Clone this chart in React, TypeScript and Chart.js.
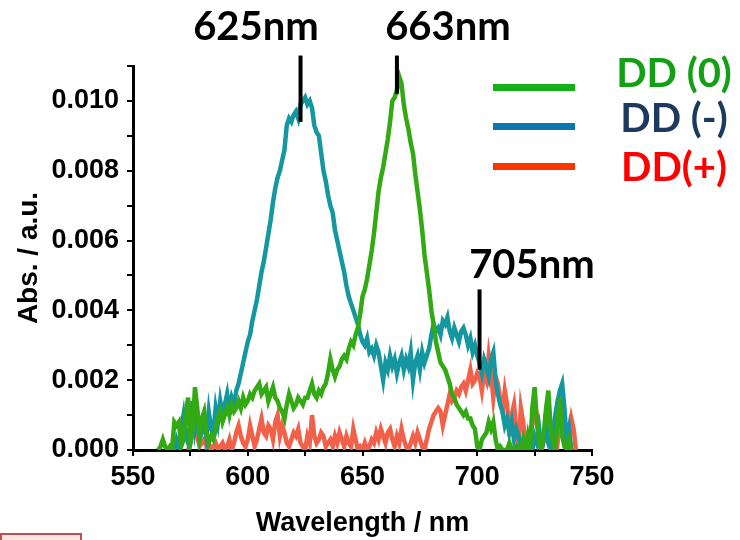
import React, { useEffect, useRef } from "react";
import { Chart, registerables } from "chart.js";

Chart.register(...registerables);

// Absorbance values in units of 1e-4 a.u., one value per nm starting at 560 nm
const WL_START = 560;
const SCALE = 1e-4;

const dd0 = [
  null, 0, 1, 3, 1, 0, 1, 0, 8, 7,
  8, 1, 3, 10, 15, 2, 6, 18, 12, 4,
  9, 11, 5, 2, 4, 3, 6, 9, 11, 8,
  10, 12, 10, 13, 11, 12, 14, 12, 15, 13,
  14, 16, 15, 17, 18, 19, 16, 17, 18, 14,
  16, 18, 15, 14, 12, 11, 9, 13, 16, 14,
  12, 13, 15, 14, 13, 15, 15, 17, 19, 16,
  15, 17, 16, 18, 19, 22, 26, 23, 21, 23,
  24, 26, 27, 26, 29, 31, 30, 33, 35, 39,
  44, 46, 49, 53, 57, 62, 68, 74, 78, 81,
  85, 89, 94, 100, 101, 103, 107, 105, 99, 95,
  92, 88, 85, 79, 74, 69, 63, 56, 51, 46,
  40, 36, 31, 28, 25, 24, 23, 21, 19, 16,
  15, 13, 12, 11, 10, 11, 9, 9, 7, 6,
  1, 0, 3, 4, 5, 8, 6, 8, 3, 0,
  1, 0, 0, 0, 2, 0, 0, 1, 0, 0,
  3, 0, 4, 0, 12, 18, 8, 2, 0, 5,
  12, 17, 6, 2, 0, 8, 15, 4, 1, 0,
  3, 0, null, null,
];

const ddMinus = [
  null, null, null, null, null, null, null, null, 0, 3,
  1, 6, 10, 4, 2, 8, 14, 6, 10, 3,
  5, 9, 4, 11, 6, 5, 12, 8, 14, 10,
  13, 16, 11, 15, 13, 17, 19, 22, 25, 28,
  31, 33, 37, 40, 43, 47, 51, 54, 58, 62,
  66, 71, 75, 78, 80, 83, 86, 93, 95, 94,
  96, 97, 95, 99, 100, 101, 99, 100, 98, 93,
  91, 90, 85, 80, 77, 73, 70, 68, 63, 60,
  57, 54, 51, 47, 44, 42, 40, 38, 36, 33,
  31, 30, 32, 28, 29, 27, 30, 28, 24, 20,
  25, 23, 27, 24, 26, 22, 25, 27, 23, 26,
  24, 28, 20, 25, 27, 23, 28, 25, 27, 29,
  33, 36, 34, 35, 33, 37, 36, 38, 34, 32,
  35, 33, 31, 34, 35, 33, 30, 32, 28, 30,
  27, 25, 22, 26, 24, 21, 26, 28, 20, 16,
  13, 11, 7, 9, 5, 8, 3, 6, 4, 1,
  2, 0, 3, 1, 0, 4, 2, 6, 0, 3,
  8, 2, 0, 5, 10, 14, 17, 19, 12, 2,
  6, 0, null, null,
];

const ddPlus = [
  null, null, null, null, null, null, null, null, null, null,
  null, null, null, null, 0, 2, 6, 5, 4, 1,
  2, 3, 1, 2, 0, 1, 2, 0, 1, 2,
  0, 1, 3, 0, 2, 5, 7, 4, 2, 1,
  3, 7, 4, 1, 3, 6, 9, 5, 4, 7,
  6, 3, 8, 10, 4, 7, 5, 2, 1, 3,
  5, 4, 6, 2, 1, 0, 4, 2, 10, 4,
  2, 3, 5, 4, 1, 2, 3, 1, 4, 2,
  5, 3, 1, 4, 2, 1, 6, 3, 0, 1,
  0, 2, 0, 1, 3, 2, 5, 3, 6, 4,
  2, 5, 6, 3, 1, 4, 2, 6, 3, 1,
  0, 2, 4, 2, 5, 3, 1, 0, 3, 6,
  8, 10, 11, 12, 11, 7, 10, 13, 16, 14,
  15, 17, 16, 18, 19, 17, 20, 23, 19, 20,
  22, 21, 17, 22, 20, 27, 22, 15, 21, 19,
  14, 11, 17, 13, 4, 10, 13, 6, 0, 12,
  8, 2, 0, 5, 7, 13, 10, 2, 0, 3,
  4, 2, 3, 1, 4, 2, 8, 13, 6, 0,
  4, 9, 6, 0,
];

const seriesNames = ["DD (0)", "DD (-)", "DD(+)"];
const lineColors = ["#33a914", "#1597a1", "#f3604a"];
const legendSwatch = ["#14b01a", "#0b79b0", "#ff3300"];
const legendText = ["#14a014", "#1d3a5e", "#ff0000"];

const xTicksMajor = [550, 600, 650, 700, 750];
const yMax = 0.011;

// peak markers: wavelength label, drawn position (nm), top & bottom (a.u.)
const markerLabels = ["625nm", "663nm", "705nm"];
const markerWl = [623, 665, 701];
const markerTop = [0.0113, 0.0113, 0.0046];
const markerBottom = [0.0094, 0.0102, 0.0023];

const toPoints = (arr: (number | null)[]) =>
  arr.map((v, i) => ({ x: WL_START + i, y: v === null ? null : v * SCALE }));

const markerPlugin = {
  id: "peakMarkers",
  afterDatasetsDraw(chart: any) {
    const { ctx, scales } = chart;
    ctx.save();
    ctx.strokeStyle = "#000";
    ctx.lineWidth = 4;
    for (let i = 0; i < markerWl.length; i++) {
      const x = scales.x.getPixelForValue(markerWl[i]);
      ctx.beginPath();
      ctx.moveTo(x, scales.y.getPixelForValue(markerTop[i]));
      ctx.lineTo(x, scales.y.getPixelForValue(markerBottom[i]));
      ctx.stroke();
    }
    ctx.restore();
  },
};

const tickFont = {
  family: "'Liberation Sans Narrow', 'Arial Narrow', 'Liberation Sans', sans-serif",
  weight: "bold" as const,
  size: 27,
};

export default function App() {
  const ref = useRef<HTMLCanvasElement>(null);

  useEffect(() => {
    if (!ref.current) return;
    const chart = new Chart(ref.current, {
      type: "line",
      data: {
        datasets: [dd0, ddMinus, ddPlus].map((arr, i) => ({
          label: seriesNames[i],
          data: toPoints(arr) as any,
          borderColor: lineColors[i],
          backgroundColor: lineColors[i],
          borderWidth: 4.5,
          pointRadius: 0,
          tension: 0,
          spanGaps: false,
        })),
      },
      options: {
        animation: false,
        responsive: false,
        parsing: false as any,
        layout: { padding: { left: 0, right: 148, top: 66, bottom: 0 } },
        plugins: { legend: { display: false }, tooltip: { enabled: false } },
        scales: {
          x: {
            type: "linear",
            min: 550,
            max: 750,
            afterFit: (s: any) => {
              s.height = 90;
            },
            border: { color: "#000", width: 3 },
            grid: {
              drawOnChartArea: false,
              drawTicks: true,
              tickLength: 6,
              color: "#000",
              lineWidth: 2,
            },
            ticks: {
              stepSize: 25,
              autoSkip: false,
              maxRotation: 0,
              padding: 5,
              color: "#000",
              font: tickFont,
              callback: (v: any) => (xTicksMajor.includes(Number(v)) ? String(v) : ""),
            },
            title: {
              display: true,
              text: "Wavelength / nm",
              color: "#000",
              font: { ...tickFont, size: 27 },
              padding: { top: 0, bottom: 0 },
            },
          },
          y: {
            min: 0,
            max: yMax,
            afterFit: (s: any) => {
              s.width = 133;
            },
            border: { color: "#000", width: 3 },
            grid: {
              drawOnChartArea: false,
              drawTicks: true,
              tickLength: 6,
              color: "#000",
              lineWidth: 2,
            },
            ticks: {
              stepSize: 0.001,
              autoSkip: false,
              padding: 8,
              color: "#000",
              font: tickFont,
              callback: (v: any) => {
                const k = Math.round(Number(v) * 1000);
                return k % 2 === 0 ? (k / 1000).toFixed(3) : "";
              },
            },
            title: {
              display: true,
              text: "Abs. / a.u.",
              color: "#000",
              font: { ...tickFont, size: 28 },
              padding: { top: 12, bottom: 0 },
            },
          },
        },
      },
      plugins: [markerPlugin],
    });
    return () => chart.destroy();
  }, []);

  const labelStyle = (left: number, top: number, color: string): React.CSSProperties => ({
    position: "absolute",
    left,
    top,
    transform: "translateX(-50%)",
    font: "bold 40px Lato, 'Open Sans', sans-serif",
    lineHeight: "40px",
    color,
    whiteSpace: "nowrap",
  });

  return (
    <div style={{ position: "fixed", left: 0, top: 0, width: 740, height: 540, background: "#fff", overflow: "hidden" }}>
      <canvas ref={ref} width={740} height={540} style={{ position: "absolute", left: 0, top: 0 }} />
      <div style={labelStyle(256, 5, "#000")}>{markerLabels[0]}</div>
      <div style={labelStyle(448, 5, "#000")}>{markerLabels[1]}</div>
      <div style={labelStyle(532, 243, "#000")}>{markerLabels[2]}</div>
      {seriesNames.map((n, i) => (
        <React.Fragment key={n}>
          <div
            style={{
              position: "absolute",
              left: 493,
              top: [84, 123, 163][i],
              width: 82,
              height: 7,
              background: legendSwatch[i],
            }}
          />
          <div style={labelStyle(674, [52, 97, 146][i], legendText[i])}>{n}</div>
        </React.Fragment>
      ))}
      <div
        style={{
          position: "absolute",
          left: 0,
          top: 533,
          width: 82,
          height: 12,
          boxSizing: "border-box",
          border: "2px solid #c0504d",
          background: "#f9e6e5",
        }}
      />
    </div>
  );
}
